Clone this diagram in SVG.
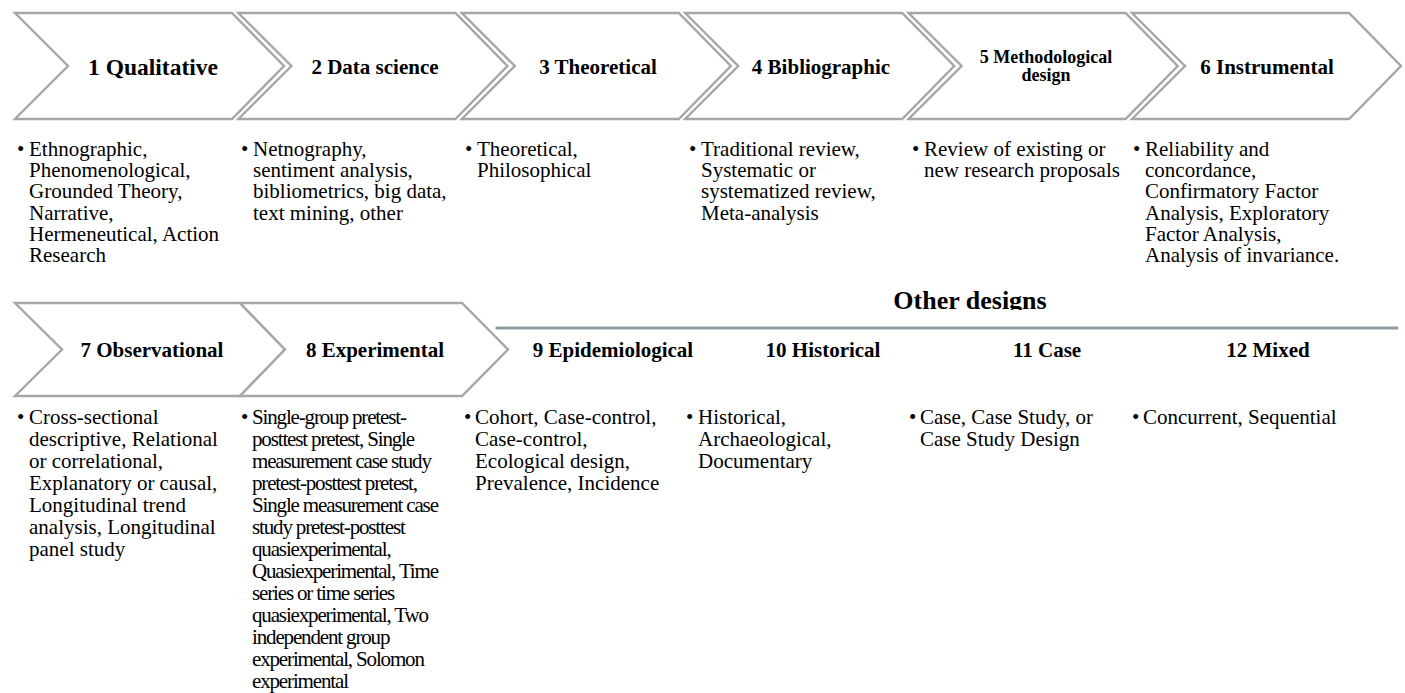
<svg xmlns="http://www.w3.org/2000/svg" width="1405" height="693" viewBox="0 0 1405 693">
<defs>
<style>
.chev{fill:#ffffff;stroke:#a6a6a6;stroke-width:2.4;stroke-linejoin:miter}
.lbl{font-family:"Liberation Serif","Times New Roman",serif;font-weight:bold;font-size:21px;fill:#000;text-anchor:middle}
.body{font-family:"Liberation Serif","Times New Roman",serif;font-size:21px;fill:#000}
.cond{letter-spacing:-1.15px}
.title{font-family:"Liberation Serif","Times New Roman",serif;font-weight:bold;font-size:26px;fill:#000;text-anchor:middle}
</style>
<clipPath id="titleClip"><rect x="0" y="270" width="1405" height="40"/></clipPath>
</defs>
<rect width="1405" height="693" fill="#ffffff"/>

<g id="n1">
<polygon class="chev" points="15,13 232,13 284,66 232,119 15,119 68,66"/>
<text class="lbl" x="153" y="75" style="font-size:23.5px">1 Qualitative</text>
<text class="body" x="17" y="156">•</text>
<text class="body"><tspan x="29" y="156">Ethnographic,</tspan><tspan x="29" y="177.2">Phenomenological,</tspan><tspan x="29" y="198.4">Grounded Theory,</tspan><tspan x="29" y="219.6">Narrative,</tspan><tspan x="29" y="240.8">Hermeneutical, Action</tspan><tspan x="29" y="262">Research</tspan></text>
</g>

<g id="n2">
<polygon class="chev" points="238.4,13 455.4,13 507.4,66 455.4,119 238.4,119 291.4,66"/>
<text class="lbl" x="375" y="74">2 Data science</text>
<text class="body" x="241" y="156">•</text>
<text class="body"><tspan x="253" y="156">Netnography,</tspan><tspan x="253" y="177.2">sentiment analysis,</tspan><tspan x="253" y="198.4">bibliometrics, big data,</tspan><tspan x="253" y="219.6">text mining, other</tspan></text>
</g>

<g id="n3">
<polygon class="chev" points="461.8,13 678.8,13 730.8,66 678.8,119 461.8,119 514.8,66"/>
<text class="lbl" x="598" y="74">3 Theoretical</text>
<text class="body" x="465" y="156">•</text>
<text class="body"><tspan x="477" y="156">Theoretical,</tspan><tspan x="477" y="177.2">Philosophical</tspan></text>
</g>

<g id="n4">
<polygon class="chev" points="685.2,13 902.2,13 954.2,66 902.2,119 685.2,119 738.2,66"/>
<text class="lbl" x="821" y="74">4 Bibliographic</text>
<text class="body" x="689" y="156">•</text>
<text class="body"><tspan x="701" y="156">Traditional review,</tspan><tspan x="701" y="177.2">Systematic or</tspan><tspan x="701" y="198.4">systematized review,</tspan><tspan x="701" y="219.6">Meta-analysis</tspan></text>
</g>

<g id="n5">
<polygon class="chev" points="908.6,13 1125.6,13 1177.6,66 1125.6,119 908.6,119 961.6,66"/>
<text class="lbl" style="font-size:18px"><tspan x="1046" y="62.5">5 Methodological</tspan><tspan x="1046" y="80.5">design</tspan></text>
<text class="body" x="912" y="156">•</text>
<text class="body"><tspan x="924" y="156">Review of existing or</tspan><tspan x="924" y="177.2">new research proposals</tspan></text>
</g>

<g id="n6">
<polygon class="chev" points="1132,13 1349,13 1401,66 1349,119 1132,119 1185,66"/>
<text class="lbl" x="1267" y="74">6 Instrumental</text>
<text class="body" x="1133" y="156">•</text>
<text class="body"><tspan x="1145" y="156">Reliability and</tspan><tspan x="1145" y="177.2">concordance,</tspan><tspan x="1145" y="198.4">Confirmatory Factor</tspan><tspan x="1145" y="219.6">Analysis, Exploratory</tspan><tspan x="1145" y="240.8">Factor Analysis,</tspan><tspan x="1145" y="262">Analysis of invariance.</tspan></text>
</g>

<g id="n7">
<polygon class="chev" points="15,303 240,303 285,349.5 240,396 15,396 62,349.5"/>
<text class="lbl" x="152" y="357">7 Observational</text>
<text class="body" x="17" y="424">•</text>
<text class="body"><tspan x="29" y="424">Cross-sectional</tspan><tspan x="29" y="446">descriptive, Relational</tspan><tspan x="29" y="468">or correlational,</tspan><tspan x="29" y="490">Explanatory or causal,</tspan><tspan x="29" y="512">Longitudinal trend</tspan><tspan x="29" y="534">analysis, Longitudinal</tspan><tspan x="29" y="556">panel study</tspan></text>
</g>

<g id="n8">
<polygon class="chev" points="240,303 462,303 508,349.5 462,396 240,396 285,349.5"/>
<text class="lbl" x="375" y="357">8 Experimental</text>
<text class="body" x="241" y="424">•</text>
<text class="body cond"><tspan x="252" y="424">Single-group pretest-</tspan><tspan x="252" y="446">posttest pretest, Single</tspan><tspan x="252" y="468">measurement case study</tspan><tspan x="252" y="490">pretest-posttest pretest,</tspan><tspan x="252" y="512">Single measurement case</tspan><tspan x="252" y="534">study pretest-posttest</tspan><tspan x="252" y="556">quasiexperimental,</tspan><tspan x="252" y="578">Quasiexperimental, Time</tspan><tspan x="252" y="600">series or time series</tspan><tspan x="252" y="622">quasiexperimental, Two</tspan><tspan x="252" y="644">independent group</tspan><tspan x="252" y="666">experimental, Solomon</tspan><tspan x="252" y="688">experimental</tspan></text>
</g>

<g id="other-designs">
<text class="title" x="970" y="309" clip-path="url(#titleClip)">Other designs</text>
</g>

<g id="connectors">
<line x1="497" y1="328" x2="1397" y2="328" stroke="#8c9b9f" stroke-width="3.2" stroke-linecap="round"/>
</g>

<g id="n9">
<text class="lbl" x="613" y="357">9 Epidemiological</text>
<text class="body" x="464" y="424">•</text>
<text class="body"><tspan x="475" y="424">Cohort, Case-control,</tspan><tspan x="475" y="446">Case-control,</tspan><tspan x="475" y="468">Ecological design,</tspan><tspan x="475" y="490">Prevalence, Incidence</tspan></text>
</g>

<g id="n10">
<text class="lbl" x="823" y="357">10 Historical</text>
<text class="body" x="686" y="424">•</text>
<text class="body"><tspan x="698" y="424">Historical,</tspan><tspan x="698" y="446">Archaeological,</tspan><tspan x="698" y="468">Documentary</tspan></text>
</g>

<g id="n11">
<text class="lbl" x="1047" y="357">11 Case</text>
<text class="body" x="909" y="424">•</text>
<text class="body"><tspan x="920" y="424">Case, Case Study, or</tspan><tspan x="920" y="446">Case Study Design</tspan></text>
</g>

<g id="n12">
<text class="lbl" x="1268" y="357">12 Mixed</text>
<text class="body" x="1132" y="424">•</text>
<text class="body"><tspan x="1143" y="424">Concurrent, Sequential</tspan></text>
</g>
</svg>
